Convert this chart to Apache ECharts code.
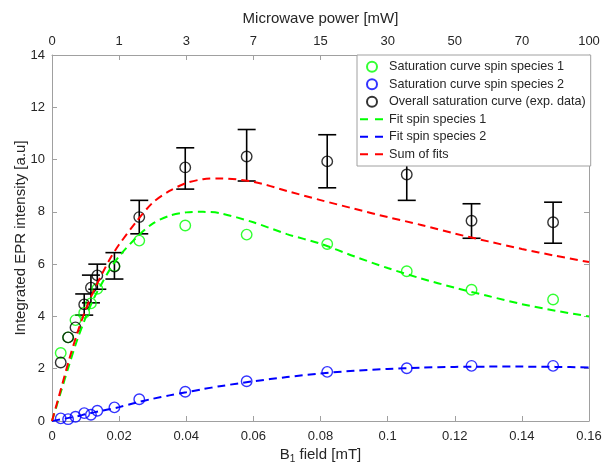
<!DOCTYPE html>
<html><head><meta charset="utf-8">
<script src="https://cdn.jsdelivr.net/npm/echarts@6/dist/echarts.min.js"></script>
<style>html,body{margin:0;padding:0;background:#fff}#c{width:604px;height:465px}</style>
</head><body><div id="c"></div>
<script>
// measured B1 field positions [mT]
const b1Field = [0.0026, 0.0048, 0.0070, 0.0096, 0.0116, 0.0135, 0.0186, 0.0260, 0.0397, 0.0580, 0.0820, 0.1057, 0.1250, 0.1493];
// saturation curve, spin species 1 (green circles)
const species1 = [2.60, 3.20, 3.86, 4.14, 4.50, 5.06, 5.93, 6.90, 7.48, 7.13, 6.77, 5.73, 5.02, 4.65];
// saturation curve, spin species 2 (blue circles)
const species2 = [0.10, 0.07, 0.16, 0.30, 0.24, 0.39, 0.52, 0.83, 1.12, 1.52, 1.88, 2.02, 2.11, 2.11];
// overall saturation curve, exp. data (black circles)
const overall = [2.24, 3.20, 3.58, 4.46, 5.10, 5.57, 5.91, 7.80, 9.70, 10.12, 9.93, 9.43, 7.66, 7.60];
// error bar limits for the overall curve (null = no bar)
const errLow  = [null, null, null, 4.05, 4.52, 5.04, 5.43, 7.16, 8.87, 9.18, 8.92, 8.44, 6.99, 6.80];
const errHigh = [null, null, null, 4.86, 5.58, 6.00, 6.44, 8.44, 10.45, 11.15, 10.95, 10.42, 8.31, 8.37];
// fit curves
const fitField = [0, 0.0025, 0.005, 0.0075, 0.01, 0.0125, 0.015, 0.0175, 0.02, 0.025, 0.03, 0.035, 0.04, 0.045, 0.05, 0.06, 0.07, 0.08, 0.09, 0.10, 0.11, 0.12, 0.13, 0.14, 0.15, 0.16];
const fit1 = [0, 1.05, 2.10, 3.10, 3.95, 4.70, 5.30, 5.85, 6.30, 7.00, 7.55, 7.85, 7.98, 8.00, 7.95, 7.60, 7.15, 6.78, 6.30, 5.85, 5.45, 5.10, 4.78, 4.47, 4.22, 4.00];
const fit2 = [0, 0.06, 0.12, 0.18, 0.26, 0.33, 0.40, 0.46, 0.53, 0.70, 0.85, 0.98, 1.10, 1.22, 1.33, 1.52, 1.68, 1.82, 1.92, 1.99, 2.04, 2.07, 2.08, 2.08, 2.07, 2.05];
const fitSum = [0, 1.15, 2.30, 3.35, 4.25, 5.00, 5.65, 6.25, 6.75, 7.60, 8.35, 8.80, 9.10, 9.25, 9.28, 9.15, 8.80, 8.45, 8.12, 7.80, 7.50, 7.17, 6.87, 6.58, 6.32, 6.08];
// axis tick labels
const yTicks = [0, 2, 4, 6, 8, 10, 12, 14];
const bottomTicks = ['0', '0.02', '0.04', '0.06', '0.08', '0.1', '0.12', '0.14', '0.16'];
const powerTicks = ['0', '1', '3', '7', '15', '30', '50', '70', '100'];

const names = ['Saturation curve spin species 1', 'Saturation curve spin species 2', 'Overall saturation curve (exp. data)', 'Fit spin species 1', 'Fit spin species 2', 'Sum of fits'];
const FONT = '"Liberation Sans", Arial, Helvetica, sans-serif';
const AX = '#a0a0a0';
const TXT = '#262626';
const DASH = [8, 5];

const zip = (xs, ys) => xs.map((x, i) => [x, ys[i]]);
const errData = b1Field.map((x, i) => errLow[i] == null ? null : [x, errLow[i], errHigh[i]]).filter(d => d);

function scatter(name, ys, color) {
  return {
    name, type: 'scatter', data: zip(b1Field, ys), symbol: 'circle', symbolSize: 10.5,
    itemStyle: { color: 'rgba(0,0,0,0)', borderColor: color, borderWidth: 1.4 },
    z: 3
  };
}
function fitLine(name, ys, color) {
  return {
    name, type: 'line', data: zip(fitField, ys), smooth: 0.3, symbol: 'none',
    lineStyle: { color, width: 2, type: DASH }, itemStyle: { color }, z: 4
  };
}
const legendData = names.map((n, i) => i < 3 ? { name: n } : {
  name: n,
  itemStyle: { color: 'rgba(0,0,0,0)', borderWidth: 0, opacity: 0 },
  lineStyle: { type: [8, 7], width: 2 }
});

const chart = echarts.init(document.getElementById('c'), null, { renderer: 'canvas' });
const axisCommon = {
  axisLine: { show: true, onZero: false, lineStyle: { color: AX, width: 1 } },
  axisTick: { show: true, inside: true, length: 5, lineStyle: { color: AX } },
  splitLine: { show: false },
  axisLabel: { color: TXT, fontSize: 13, fontFamily: FONT },
  nameTextStyle: { color: TXT, fontSize: 15, fontFamily: FONT },
  nameMoveOverlap: false
};
chart.setOption({
  animation: false,
  backgroundColor: '#fff',
  textStyle: { fontFamily: FONT },
  grid: { left: 52, right: 15, top: 55, bottom: 44, containLabel: false, outerBoundsMode: 'none' },
  legend: {
    data: legendData, orient: 'vertical', left: 357, top: 55,
    itemWidth: 24, itemHeight: 10, itemGap: 0,
    padding: [3, 5, 3, 2],
    borderColor: AX, borderWidth: 1, backgroundColor: '#fff',
    textStyle: { color: TXT, fontSize: 12.6, fontFamily: FONT, lineHeight: 17.5 },
    selectedMode: false
  },
  xAxis: [
    Object.assign({}, axisCommon, {
      type: 'value', position: 'bottom', min: 0, max: 0.16, interval: 0.02,
      name: 'B{s|1} field [mT]', nameLocation: 'middle', nameGap: 24,
      nameTextStyle: { color: TXT, fontSize: 15, fontFamily: FONT,
        rich: { s: { fontSize: 10, fontFamily: FONT, color: TXT, padding: [9, 0, 0, 0] } } },
      axisLabel: { color: TXT, fontSize: 13, fontFamily: FONT, margin: 9,
        formatter: (v, i) => bottomTicks[i] }
    }),
    Object.assign({}, axisCommon, {
      type: 'value', position: 'top', min: 0, max: 0.16, interval: 0.02,
      name: 'Microwave power [mW]', nameLocation: 'middle', nameGap: 29,
      axisLabel: { color: TXT, fontSize: 13, fontFamily: FONT, margin: 7,
        formatter: (v, i) => powerTicks[i] }
    })
  ],
  yAxis: [
    Object.assign({}, axisCommon, {
      type: 'value', position: 'left', min: 0, max: 14, interval: 2,
      name: 'Integrated EPR intensity [a.u]', nameLocation: 'middle', nameGap: 24,
      axisLabel: { color: TXT, fontSize: 13, fontFamily: FONT, margin: 7,
        formatter: (v) => yTicks.includes(v) ? String(v) : '' }
    }),
    Object.assign({}, axisCommon, {
      type: 'value', position: 'right', min: 0, max: 14, interval: 2,
      axisLabel: { show: false }
    })
  ],
  series: [
    scatter(names[0], species1, '#00ff00'),
    scatter(names[1], species2, '#0000ff'),
    scatter(names[2], overall, '#000000'),
    {
      type: 'custom', name: 'err', data: errData, z: 3,
      renderItem: (params, api) => {
        const x = api.value(0), lo = api.value(1), hi = api.value(2);
        const a = api.coord([x, lo]), b = api.coord([x, hi]);
        const w = 9, st = { stroke: '#000', lineWidth: 1.6 };
        return { type: 'group', children: [
          { type: 'line', shape: { x1: a[0], y1: a[1], x2: b[0], y2: b[1] }, style: st },
          { type: 'line', shape: { x1: a[0] - w, y1: a[1], x2: a[0] + w, y2: a[1] }, style: st },
          { type: 'line', shape: { x1: b[0] - w, y1: b[1], x2: b[0] + w, y2: b[1] }, style: st }
        ] };
      },
      encode: { x: 0, y: [1, 2] }
    },
    fitLine(names[3], fit1, '#00ff00'),
    fitLine(names[4], fit2, '#0000ff'),
    fitLine(names[5], fitSum, '#ff0000')
  ]
});
</script></body></html>
